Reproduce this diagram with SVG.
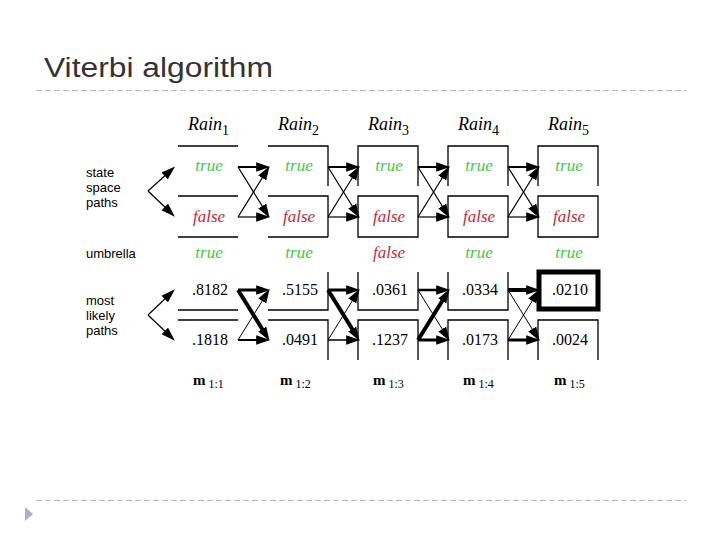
<svg xmlns="http://www.w3.org/2000/svg" width="720" height="540" viewBox="0 0 720 540">
<style>
.title{font-family:"Liberation Sans",Arial,sans-serif;font-size:27px;fill:#333}
.dash{stroke:#b8b8b8;stroke-width:1;stroke-dasharray:6 3;fill:none}
.lbl{font-family:"Liberation Sans",Arial,sans-serif;font-size:13px;fill:#000}
.rain{font-family:"Liberation Serif","Times New Roman",serif;font-size:18px;font-style:italic;fill:#000}
.sub{font-style:normal;font-size:14px}
.t{font-family:"Liberation Serif","Times New Roman",serif;font-size:17px;font-style:italic;fill:#44c844;text-anchor:middle}
.f{font-family:"Liberation Serif","Times New Roman",serif;font-size:17px;font-style:italic;fill:#c8283c;text-anchor:middle}
.num{font-family:"Liberation Serif","Times New Roman",serif;font-size:16px;fill:#000;text-anchor:middle}
.m{font-family:"Liberation Serif","Times New Roman",serif;font-size:15px;font-weight:bold;fill:#000}
.ms{font-weight:normal;font-size:12px}
.box{fill:none;stroke:#000;stroke-width:1.3}
.c{stroke:#000;fill:none;marker-end:url(#ah)}
</style>
<defs>
<marker id="ah" markerUnits="userSpaceOnUse" markerWidth="14" markerHeight="10" refX="5" refY="4" orient="auto" viewBox="0 0 12 8">
<path d="M0,0 L12,4 L0,8 z" fill="#000"/>
</marker>
</defs>

<text class="title" x="44" y="77" textLength="229" lengthAdjust="spacingAndGlyphs">Viterbi algorithm</text>
<line class="dash" x1="36" y1="90.5" x2="686" y2="90.5"/>
<line class="dash" x1="36" y1="500.5" x2="686" y2="500.5"/>
<path d="M25,507 L33,514 L25,521 z" fill="#a3b6cc"/>

<g id="labels">
<text class="lbl" x="86" y="177">state</text>
<text class="lbl" x="86" y="192">space</text>
<text class="lbl" x="86" y="207">paths</text>
<text class="lbl" x="86" y="258">umbrella</text>
<text class="lbl" x="86" y="305">most</text>
<text class="lbl" x="86" y="320">likely</text>
<text class="lbl" x="86" y="335">paths</text>
</g>

<g id="col1">
<text class="rain" x="188" y="130">Rain<tspan class="sub" dy="5">1</tspan></text>
<path class="box" d="M178,146H238M178,196H238M178,237H238"/>
<text class="t" x="209" y="171">true</text>
<text class="f" x="209" y="222">false</text>
<text class="t" x="209" y="258">true</text>
<path class="box" d="M178,310H238M178,320H238"/>
<text class="num" x="210" y="295">.8182</text>
<text class="num" x="210" y="345">.1818</text>
<text class="m" x="193" y="385">m<tspan class="ms" dx="3" dy="3">1:1</tspan></text>
</g>

<g id="col2">
<text class="rain" x="278" y="130">Rain<tspan class="sub" dy="5">2</tspan></text>
<path class="box" d="M268,146H328V186M268,196H328V237M268,237H328"/>
<text class="t" x="299" y="171">true</text>
<text class="f" x="299" y="222">false</text>
<text class="t" x="299" y="258">true</text>
<path class="box" d="M328,272V310H268M268,320H328V360"/>
<text class="num" x="300" y="295">.5155</text>
<text class="num" x="300" y="345">.0491</text>
<text class="m" x="280" y="385">m<tspan class="ms" dx="3" dy="3">1:2</tspan></text>
</g>

<g id="col3">
<text class="rain" x="368" y="130">Rain<tspan class="sub" dy="5">3</tspan></text>
<path class="box" d="M358,186V146H418V186M358,196H418V237H358z"/>
<text class="t" x="389" y="171">true</text>
<text class="f" x="389" y="222">false</text>
<text class="f" x="389" y="258">false</text>
<path class="box" d="M358,272V310H418V272M358,360V320H418V360"/>
<text class="num" x="390" y="295">.0361</text>
<text class="num" x="390" y="345">.1237</text>
<text class="m" x="373" y="385">m<tspan class="ms" dx="3" dy="3">1:3</tspan></text>
</g>

<g id="col4">
<text class="rain" x="458" y="130">Rain<tspan class="sub" dy="5">4</tspan></text>
<path class="box" d="M448,186V146H508V186M448,196H508V237H448z"/>
<text class="t" x="479" y="171">true</text>
<text class="f" x="479" y="222">false</text>
<text class="t" x="479" y="258">true</text>
<path class="box" d="M448,272V310H508V272M448,360V320H508V360"/>
<text class="num" x="480" y="295">.0334</text>
<text class="num" x="480" y="345">.0173</text>
<text class="m" x="463" y="385">m<tspan class="ms" dx="3" dy="3">1:4</tspan></text>
</g>

<g id="col5">
<text class="rain" x="548" y="130">Rain<tspan class="sub" dy="5">5</tspan></text>
<path class="box" d="M538,186V146H598V186M538,196H598V237H538z"/>
<text class="t" x="569" y="171">true</text>
<text class="f" x="569" y="222">false</text>
<text class="t" x="569" y="258">true</text>
<rect x="539" y="272" width="59" height="37" fill="none" stroke="#000" stroke-width="5"/>
<path class="box" d="M538,360V320H598V360"/>
<text class="num" x="570" y="295">.0210</text>
<text class="num" x="570" y="345">.0024</text>
<text class="m" x="554" y="385">m<tspan class="ms" dx="3" dy="3">1:5</tspan></text>
</g>

<g id="connectors">
<!-- left brackets -->
<line class="c" stroke-width="1.2" x1="148" y1="191" x2="169" y2="172"/>
<line class="c" stroke-width="1.2" x1="148" y1="191" x2="169" y2="211"/>
<line class="c" stroke-width="1.2" x1="148" y1="315" x2="169" y2="295"/>
<line class="c" stroke-width="1.2" x1="148" y1="315" x2="169" y2="335"/>

<!-- state space paths -->
<line class="c" stroke-width="2" x1="238" y1="167" x2="262" y2="167"/>
<line class="c" stroke-width="1.2" x1="238" y1="167" x2="265.3" y2="211"/>
<line class="c" stroke-width="1.2" x1="238" y1="217" x2="265.3" y2="173"/>
<line class="c" stroke-width="1.2" x1="238" y1="217" x2="262" y2="217"/>

<line class="c" stroke-width="2" x1="328" y1="167" x2="352" y2="167"/>
<line class="c" stroke-width="1.2" x1="328" y1="167" x2="355.3" y2="211"/>
<line class="c" stroke-width="1.2" x1="328" y1="217" x2="355.3" y2="173"/>
<line class="c" stroke-width="1.2" x1="328" y1="217" x2="352" y2="217"/>

<line class="c" stroke-width="2" x1="418" y1="167" x2="442" y2="167"/>
<line class="c" stroke-width="1.2" x1="418" y1="167" x2="445.3" y2="211"/>
<line class="c" stroke-width="1.2" x1="418" y1="217" x2="445.3" y2="173"/>
<line class="c" stroke-width="1.2" x1="418" y1="217" x2="442" y2="217"/>

<line class="c" stroke-width="2" x1="508" y1="167" x2="532" y2="167"/>
<line class="c" stroke-width="1.2" x1="508" y1="167" x2="535.3" y2="211"/>
<line class="c" stroke-width="1.2" x1="508" y1="217" x2="535.3" y2="173"/>
<line class="c" stroke-width="1.2" x1="508" y1="217" x2="532" y2="217"/>

<!-- most likely paths -->
<line class="c" stroke-width="3" x1="238" y1="290" x2="262" y2="290"/>
<line class="c" stroke-width="4" x1="238" y1="290" x2="265.3" y2="334"/>
<line class="c" stroke-width="1" x1="238" y1="340" x2="265.3" y2="296"/>
<line class="c" stroke-width="2" x1="238" y1="340" x2="262" y2="340"/>

<line class="c" stroke-width="3" x1="328" y1="290" x2="352" y2="290"/>
<line class="c" stroke-width="4" x1="328" y1="290" x2="355.3" y2="334"/>
<line class="c" stroke-width="1" x1="328" y1="340" x2="355.3" y2="296"/>
<line class="c" stroke-width="1.5" x1="328" y1="340" x2="352" y2="340"/>

<line class="c" stroke-width="2.5" x1="418" y1="290" x2="442" y2="290"/>
<line class="c" stroke-width="1" x1="418" y1="290" x2="445.3" y2="334"/>
<line class="c" stroke-width="4" x1="418" y1="340" x2="445.3" y2="296"/>
<line class="c" stroke-width="3" x1="418" y1="340" x2="442" y2="340"/>

<line class="c" stroke-width="4" x1="508" y1="290" x2="532" y2="290"/>
<line class="c" stroke-width="1" x1="508" y1="290" x2="535.3" y2="334"/>
<line class="c" stroke-width="1" x1="508" y1="340" x2="535.3" y2="296"/>
<line class="c" stroke-width="3" x1="508" y1="340" x2="532" y2="340"/>
</g>
</svg>
